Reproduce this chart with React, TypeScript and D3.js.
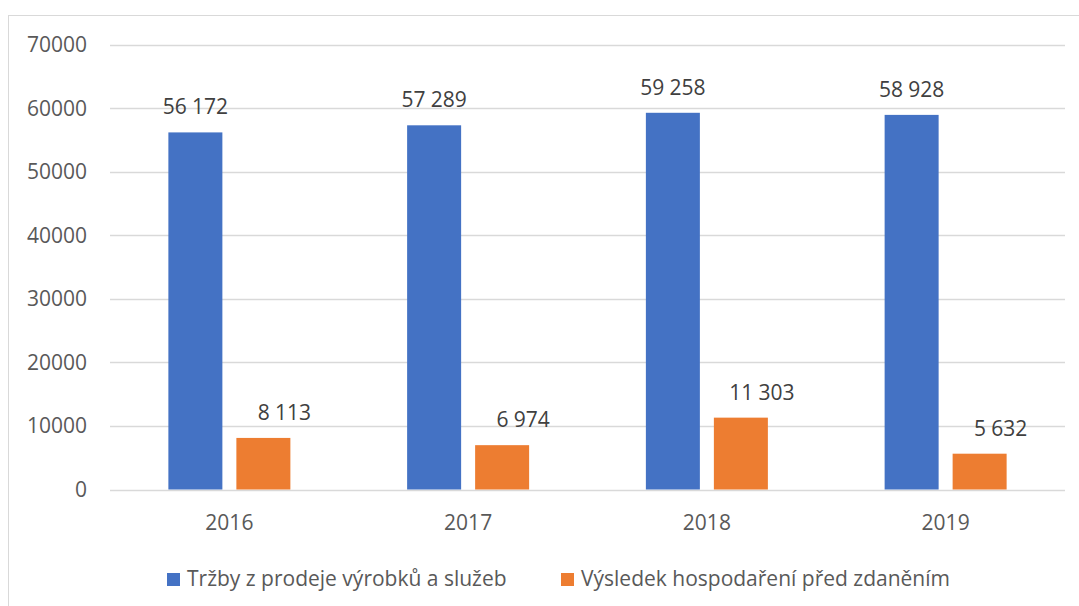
import React, { useEffect, useRef } from 'react';
import * as d3 from 'd3';

const YEARS = ['2016', '2017', '2018', '2019'];
const SALES = [56172, 57289, 59258, 58928];
const PROFIT = [8113, 6974, 11303, 5632];
const SERIES_NAMES = ['Tržby z prodeje výrobků a služeb', 'Výsledek hospodaření před zdaněním'];
const Y_TICKS = [0, 10000, 20000, 30000, 40000, 50000, 60000, 70000];

const COLORS = ['#4472C4', '#ED7D31'];
const FONT = '"Open Sans", "Noto Sans", sans-serif';
const FS = 21;

export default function App() {
  const svgRef = useRef<SVGSVGElement>(null);

  useEffect(() => {
    document.body.style.margin = '0';
    const svgEl = svgRef.current;
    if (!svgEl) return;

    const width = 1079;
    const height = 606;
    const left = 110;
    const right = 1065;
    const top = 44.5;
    const bottom = 489.5;

    const svg = d3.select(svgEl);
    svg.attr('viewBox', `0 0 ${width} ${height}`);
    svg.selectAll('*').remove();

    svg.append('rect').attr('width', width).attr('height', height).attr('fill', '#fff');

    // outer frame (right/bottom edges fall outside the picture)
    svg
      .append('rect')
      .attr('x', 8.5)
      .attr('y', 15.5)
      .attr('width', 1200)
      .attr('height', 700)
      .attr('fill', 'none')
      .attr('stroke', '#d9d9d9');

    const x = d3.scaleBand().domain(YEARS).range([left, right]);
    const y = d3.scaleLinear().domain([0, 70000]).range([bottom, top]);

    const barW = 54;
    const gap = 14;

    // Gridlines
    svg
      .append('g')
      .selectAll('line')
      .data(Y_TICKS)
      .enter()
      .append('line')
      .attr('x1', left)
      .attr('x2', right)
      .attr('y1', d => Math.round(y(d)) + 0.5)
      .attr('y2', d => Math.round(y(d)) + 0.5)
      .attr('stroke', '#d9d9d9')
      .attr('stroke-width', 1.3);

    // Y labels
    svg
      .append('g')
      .selectAll('text')
      .data(Y_TICKS)
      .enter()
      .append('text')
      .attr('x', 87)
      .attr('y', d => y(d) + 7.5)
      .attr('text-anchor', 'end')
      .attr('fill', '#595959')
      .attr('font-family', FONT)
      .attr('font-size', FS)
      .text(d => String(d));

    const fmt = (v: number) => d3.format(',')(v).replace(/,/g, ' ');

    const series = [SALES, PROFIT];
    series.forEach((vals, s) => {
      const g = svg.append('g');
      const bx = (i: number) =>
        x(YEARS[i])! + x.bandwidth() / 2 + (s === 0 ? -gap / 2 - barW : gap / 2);

      g.selectAll('rect')
        .data(vals)
        .enter()
        .append('rect')
        .attr('x', (_, i) => bx(i))
        .attr('width', barW)
        .attr('y', d => y(d))
        .attr('height', d => y(0) - y(d))
        .attr('fill', COLORS[s]);

      g.selectAll('text')
        .data(vals)
        .enter()
        .append('text')
        .attr('x', (_, i) => bx(i) + barW / 2 + (s === 1 ? 21 : 0))
        .attr('y', d => y(d) - 18)
        .attr('text-anchor', 'middle')
        .attr('fill', '#404040')
        .attr('font-family', FONT)
        .attr('font-size', FS)
        .text(d => fmt(d));
    });

    // X labels
    svg
      .append('g')
      .selectAll('text')
      .data(YEARS)
      .enter()
      .append('text')
      .attr('x', d => x(d)! + x.bandwidth() / 2)
      .attr('y', 530)
      .attr('text-anchor', 'middle')
      .attr('fill', '#595959')
      .attr('font-family', FONT)
      .attr('font-size', FS)
      .text(d => d);

    // Legend
    const legendX = [167, 561];
    const lg = svg.append('g');
    SERIES_NAMES.forEach((name, i) => {
      lg.append('rect')
        .attr('x', legendX[i])
        .attr('y', 573)
        .attr('width', 13)
        .attr('height', 13)
        .attr('fill', COLORS[i]);
      lg.append('text')
        .attr('x', legendX[i] + 20)
        .attr('y', 586)
        .attr('fill', '#595959')
        .attr('font-family', FONT)
        .attr('font-size', FS)
        .text(name);
    });
  }, []);

  return <svg ref={svgRef} width={1079} height={606} style={{ display: 'block' }} />;
}
